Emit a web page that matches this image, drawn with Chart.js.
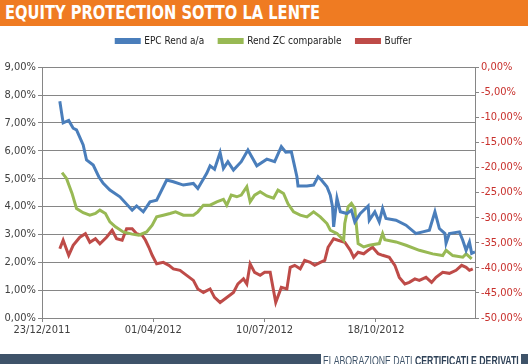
<!DOCTYPE html>
<html>
<head>
<meta charset="utf-8">
<script src="https://cdn.jsdelivr.net/npm/chart.js@4"></script>
<style>
  body { margin: 0; background: #fff; }
  #wrap { position: relative; width: 528px; height: 364px; overflow: hidden; }
  #chart { position: absolute; left: 0; top: 0; }
  #title { position: absolute; left: 0; top: 0; width: 528px; height: 26px; background: #EF7B22; }
  #titleText { position: absolute; left: 5px; top: 0; line-height: 27px; color: #fff; font: bold 20px "Liberation Sans Narrow", "DejaVu Sans Condensed", sans-serif; white-space: nowrap; transform-origin: left center; }
  #footBar { position: absolute; left: 0; top: 354px; width: 321px; height: 10px; background: #3E5369; }
  #footSq { position: absolute; left: 521px; top: 354px; width: 7px; height: 10px; background: #3E5369; }
  #footText { position: absolute; left: 323px; top: 353px; color: #3E5369; font: 13px "Liberation Sans Narrow", sans-serif; white-space: nowrap; transform-origin: left top; }
  #footText b { color: #2E4157; }
</style>
</head>
<body>
<div id="wrap">
  <canvas id="chart" width="528" height="364"></canvas>
  <div id="title"><span id="titleText">EQUITY PROTECTION SOTTO LA LENTE</span></div>
  <div id="footBar"></div>
  <div id="footText">ELABORAZIONE DATI <b>CERTIFICATI E DERIVATI</b></div>
  <div id="footSq"></div>
</div>
<script>
// giorni dal 23/12/2011
var startDate = new Date(2011, 11, 23);
var dateTicks = [0, 100, 200, 300];

// EPC Rend a/a (asse sinistro, %)
var epcDays = [16,19,24,28,31,37,40,46,51,55,61,70,81,85,91,97,103,109,112,118,127,136,140,148,151,155,160,163,167,172,179,185,193,202,209,215,219,224,227,229,230,238,244,248,251,256,259,261,262,265,268,274,278,281,286,293,294,299,303,306,309,318,327,336,342,348,353,357,362,363,366,375,378,381,384,386,389];
var epcValues = [7.78,7.00,7.09,6.81,6.75,6.21,5.67,5.49,5.07,4.83,4.59,4.35,3.87,4.02,3.81,4.17,4.23,4.71,4.95,4.89,4.77,4.83,4.65,5.19,5.46,5.34,5.94,5.37,5.61,5.31,5.61,6.03,5.46,5.70,5.61,6.15,5.95,5.97,5.43,5.07,4.74,4.74,4.77,5.07,4.95,4.71,4.41,3.99,3.27,4.30,3.81,3.75,3.87,3.45,3.75,4.02,3.51,3.81,3.45,3.93,3.57,3.51,3.33,3.03,3.09,3.15,3.81,3.21,3.03,2.68,3.03,3.09,2.79,2.43,2.73,2.32,2.37];

// Rend ZC comparable (asse sinistro, %)
var zcDays = [18,22,27,31,37,43,48,52,57,61,66,73,81,87,94,99,103,109,115,120,127,136,140,145,151,157,163,166,170,175,179,184,187,191,196,202,208,212,217,221,226,232,238,244,250,256,259,265,271,272,275,278,281,284,289,294,303,306,308,318,327,339,351,360,363,369,378,381,386];
var zcValues = [5.22,5.01,4.47,3.93,3.78,3.69,3.75,3.87,3.75,3.45,3.27,3.09,3.01,2.97,3.09,3.33,3.63,3.69,3.75,3.81,3.69,3.69,3.81,4.05,4.05,4.17,4.26,4.05,4.41,4.35,4.41,4.71,4.17,4.41,4.53,4.38,4.30,4.59,4.47,4.10,3.81,3.69,3.63,3.81,3.63,3.39,3.15,3.03,2.79,3.39,3.99,4.11,3.93,2.67,2.55,2.61,2.67,3.03,2.81,2.73,2.61,2.43,2.30,2.24,2.43,2.24,2.18,2.30,2.12];

// Buffer (asse destro, %)
var bufDays = [16,19,24,28,34,39,43,48,52,58,63,67,72,76,81,85,90,93,96,99,103,109,114,118,124,130,136,140,145,151,155,160,166,172,176,181,184,187,191,196,200,205,208,210,215,220,223,227,232,236,241,245,250,254,257,262,266,272,277,280,284,289,293,297,302,306,312,317,321,326,330,335,339,345,350,354,360,366,372,377,381,384,387];
var bufValues = [-36.2,-34.5,-37.5,-35.5,-33.9,-33.2,-34.9,-34.2,-35.2,-33.9,-32.5,-34.2,-34.5,-32.2,-32.2,-33.2,-33.5,-34.5,-35.9,-37.5,-39.2,-38.9,-39.5,-40.2,-40.5,-41.5,-42.5,-44.2,-44.9,-44.2,-45.9,-46.9,-45.9,-44.9,-43.2,-42.2,-43.2,-39.2,-40.9,-41.5,-40.9,-40.9,-44.5,-46.9,-43.9,-44.2,-39.9,-39.5,-40.2,-38.5,-38.9,-39.5,-38.9,-38.5,-35.9,-34.2,-34.5,-34.9,-36.5,-37.9,-36.9,-37.2,-36.5,-35.9,-37.2,-37.5,-37.9,-39.5,-41.9,-43.2,-42.9,-42.2,-42.5,-41.9,-42.9,-41.9,-40.9,-41.1,-40.5,-39.5,-39.9,-40.5,-40.2];

function punti(days, vals){
	return days.map(function(d, i){ return {x: d, y: vals[i]}; });
}
function dataStr(d){
	var dt = new Date(startDate.getFullYear(), startDate.getMonth(), startDate.getDate() + d);
	var gg = ("0" + dt.getDate()).slice(-2);
	var mm = ("0" + (dt.getMonth() + 1)).slice(-2);
	return gg + "/" + mm + "/" + dt.getFullYear();
}
function perc(v){
	return v.toFixed(2).replace(".", ",") + "%";
}

var grigio = "#868686";
var fontAssi = {family: "DejaVu Sans Condensed", size: 11};

new Chart("chart", {
	type: "line",
	data: {
		datasets: [{
			label: "EPC Rend a/a",
			data: punti(epcDays, epcValues),
			borderColor: "#4A7EBB", backgroundColor: "#4A7EBB",
			borderWidth: 3, pointRadius: 0, yAxisID: "y"
		}, {
			label: "Rend ZC comparable",
			data: punti(zcDays, zcValues),
			borderColor: "#98B954", backgroundColor: "#98B954",
			borderWidth: 3, pointRadius: 0, yAxisID: "y"
		}, {
			label: "Buffer",
			data: punti(bufDays, bufValues),
			borderColor: "#BE4B48", backgroundColor: "#BE4B48",
			borderWidth: 3, pointRadius: 0, yAxisID: "y2"
		}]
	},
	options: {
		responsive: false,
		animation: false,
		layout: { padding: { top: 21, bottom: 0, left: 0, right: 0 } },
		plugins: {
			tooltip: { enabled: false },
			legend: {
				position: "top",
				labels: {
					boxWidth: 23, boxHeight: 3, padding: 15,
					color: "#222",
					font: { family: "DejaVu Sans Condensed", size: 10 }
				}
			},
			// spazio vuoto tra legenda e grafico
			subtitle: {
				display: true, text: "", weight: 500,
				font: { size: 1 }, padding: { top: 10, bottom: 0 }
			}
		},
		scales: {
			x: {
				type: "linear", min: 0, max: 389,
				afterBuildTicks: function(scale){
					scale.ticks = dateTicks.map(function(v){ return {value: v}; });
				},
				afterFit: function(scale){ scale.height = 46; },
				grid: { drawOnChartArea: false, color: grigio, tickLength: 4 },
				border: { color: grigio },
				ticks: {
					autoSkip: false, maxRotation: 0, color: "#404040", font: fontAssi, padding: 2,
					callback: function(v){ return dataStr(v); }
				}
			},
			y: {
				position: "left", min: 0, max: 9,
				afterFit: function(scale){ scale.width = 42; },
				grid: { color: grigio, tickLength: 4 },
				border: { color: grigio },
				ticks: {
					stepSize: 1, color: "#404040", font: fontAssi, padding: 2,
					callback: function(v){ return perc(v); }
				}
			},
			y2: {
				position: "right", min: -50, max: 0,
				afterFit: function(scale){ scale.width = 53; },
				grid: { drawOnChartArea: false, color: grigio, tickLength: 4 },
				border: { color: grigio },
				ticks: {
					stepSize: 5, color: "#C8302C", font: fontAssi, padding: 2,
					callback: function(v){ return perc(v); }
				}
			}
		}
	}
});

// adatto larghezza dei testi di titolo e piede
var t = document.getElementById("titleText");
t.style.transform = "scaleX(" + (315 / t.offsetWidth) + ")";
var f = document.getElementById("footText");
f.style.transform = "scaleX(" + (196 / f.offsetWidth) + ")";
</script>
</body>
</html>
